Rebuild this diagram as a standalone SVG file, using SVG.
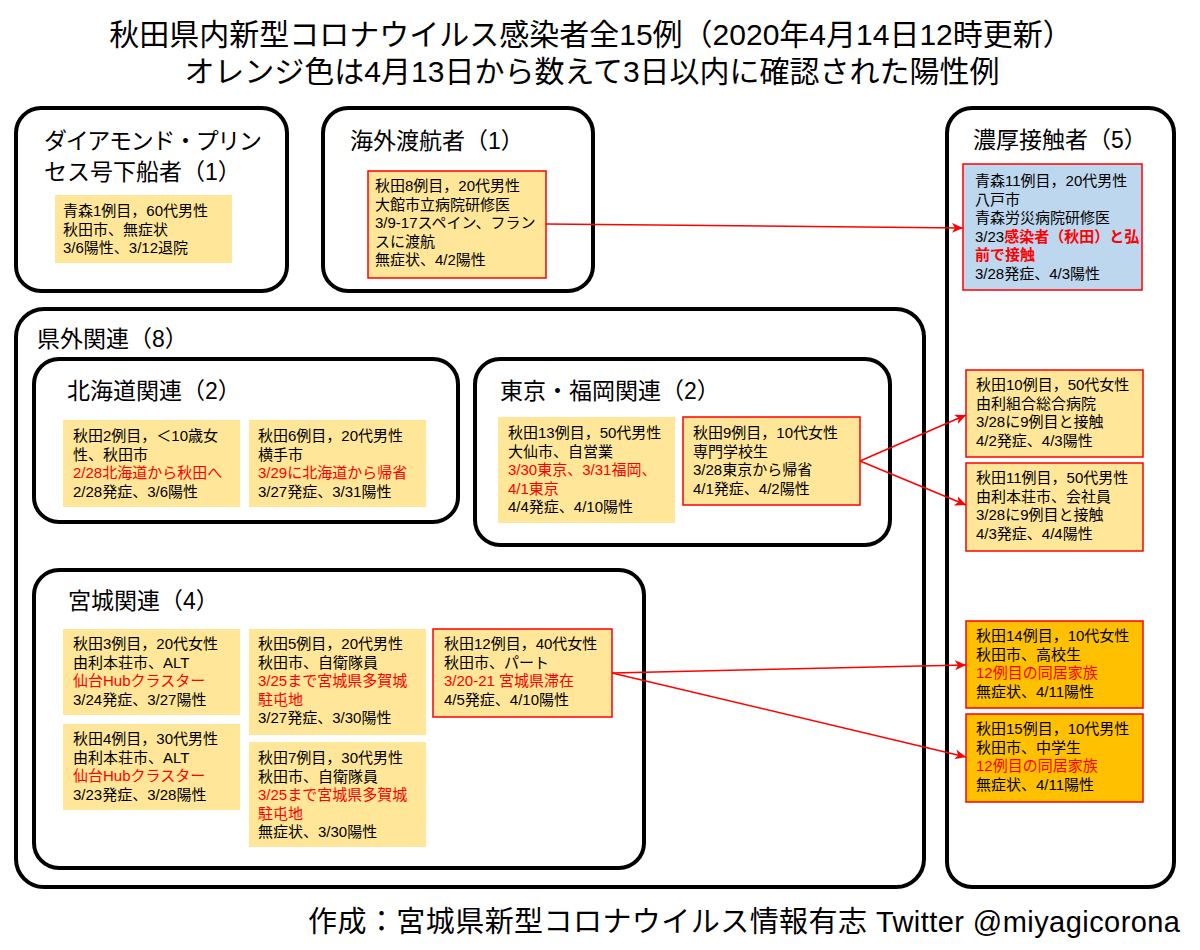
<svg xmlns="http://www.w3.org/2000/svg" width="1200" height="950" viewBox="0 0 1200 950">
<style>
text{font-family:"Liberation Sans","Noto Sans CJK JP",sans-serif;fill:#000}
.title{font-size:30px;text-anchor:middle}
.foot{font-size:29px;text-anchor:end}
.h{font-size:23px}
.t{font-size:15px}
.r{fill:#FF0000}
.b{font-weight:bold}
.box{fill:#fff;stroke:#000;stroke-width:4}
.c{fill:#FFE699}
.cr{fill:#FFE699;stroke:#FF0000;stroke-width:1.5}
.cb{fill:#BDD7EE;stroke:#FF0000;stroke-width:1.5}
.co{fill:#FFC000;stroke:#FF0000;stroke-width:1.5}
.link{fill:none;stroke:#FF0000;stroke-width:1.5}
</style>
<defs>
<marker id="arr" markerUnits="userSpaceOnUse" markerWidth="12" markerHeight="10" refX="11" refY="5" orient="auto">
<path d="M0,0 L11,5 L0,10 L3,5 z" fill="#FF0000"/>
</marker>
</defs>
<rect width="1200" height="950" fill="#fff"/>
<g id="title">
<text class="title"><tspan x="591" y="45">秋田県内新型コロナウイルス感染者全15例（2020年4月14日12時更新）</tspan><tspan x="592" y="82">オレンジ色は4月13日から数えて3日以内に確認された陽性例</tspan></text>
</g>
<g id="containers">
<g id="grp-diamond">
<rect class="box" x="16" y="108" width="271" height="183" rx="25"/>
<text class="h"><tspan x="44" y="149" textLength="218">ダイアモンド・プリン</tspan><tspan x="44" y="180">セス号下船者（1）</tspan></text>
</g>
<g id="grp-overseas">
<rect class="box" x="323" y="108" width="270" height="183" rx="25"/>
<text class="h" x="350" y="149">海外渡航者（1）</text>
</g>
<g id="grp-contact">
<rect class="box" x="947" y="108" width="227" height="779" rx="25"/>
<text class="h" x="973" y="148">濃厚接触者（5）</text>
</g>
<g id="grp-outside">
<rect class="box" x="16" y="309" width="908" height="578" rx="28"/>
<text class="h" x="37" y="347">県外関連（8）</text>
</g>
<g id="grp-hokkaido">
<rect class="box" x="34" y="359" width="424" height="163" rx="25"/>
<text class="h" x="67" y="399">北海道関連（2）</text>
</g>
<g id="grp-tokyo">
<rect class="box" x="475" y="359" width="415" height="186" rx="25"/>
<text class="h" x="500" y="399">東京・福岡関連（2）</text>
</g>
<g id="grp-miyagi">
<rect class="box" x="34" y="570" width="610" height="298" rx="25"/>
<text class="h" x="68" y="609">宮城関連（4）</text>
</g>
</g>
<g id="connectors">
<path class="link" d="M546,224 L963,228" marker-end="url(#arr)"/>
<path class="link" d="M860,461 L966,415" marker-end="url(#arr)"/>
<path class="link" d="M860,461 L966,505" marker-end="url(#arr)"/>
<path class="link" d="M612,673 L966,665" marker-end="url(#arr)"/>
<path class="link" d="M612,673 L966,757" marker-end="url(#arr)"/>
</g>
<g id="aomori1">
<rect class="c" x="55" y="195" width="177" height="68"/>
<text class="t"><tspan x="63" y="216">青森1例目，60代男性</tspan><tspan x="63" y="234.5">秋田市、無症状</tspan><tspan x="63" y="253">3/6陽性、3/12退院</tspan></text>
</g>
<g id="akita8">
<rect class="cr" x="368" y="171" width="178" height="107"/>
<text class="t"><tspan x="375" y="191">秋田8例目，20代男性</tspan><tspan x="375" y="209.5">大館市立病院研修医</tspan><tspan x="375" y="228">3/9-17スペイン、フラン</tspan><tspan x="375" y="246.5">スに渡航</tspan><tspan x="375" y="265">無症状、4/2陽性</tspan></text>
</g>
<g id="aomori11">
<rect class="cb" x="963" y="164" width="179" height="126"/>
<text class="t"><tspan x="975" y="186">青森11例目，20代男性</tspan><tspan x="975" y="204.5">八戸市</tspan><tspan x="975" y="223">青森労災病院研修医</tspan><tspan x="975" y="241.5">3/23</tspan><tspan class="r b">感染者（秋田）と弘</tspan><tspan class="r b" x="975" y="260">前で接触</tspan><tspan x="975" y="278.5">3/28発症、4/3陽性</tspan></text>
</g>
<g id="akita2">
<rect class="c" x="63" y="420" width="177" height="87"/>
<text class="t"><tspan x="73" y="441">秋田2例目，＜10歳女</tspan><tspan x="73" y="459.5">性、秋田市</tspan><tspan class="r" x="73" y="478">2/28北海道から秋田へ</tspan><tspan x="73" y="496.5">2/28発症、3/6陽性</tspan></text>
</g>
<g id="akita6">
<rect class="c" x="249" y="420" width="177" height="87"/>
<text class="t"><tspan x="258" y="441">秋田6例目，20代男性</tspan><tspan x="258" y="459.5">横手市</tspan><tspan class="r" x="258" y="478">3/29に北海道から帰省</tspan><tspan x="258" y="496.5">3/27発症、3/31陽性</tspan></text>
</g>
<g id="akita13">
<rect class="c" x="498" y="417" width="177" height="106"/>
<text class="t"><tspan x="508" y="438">秋田13例目，50代男性</tspan><tspan x="508" y="456.5">大仙市、自営業</tspan><tspan class="r" x="508" y="475">3/30東京、3/31福岡、</tspan><tspan class="r" x="508" y="493.5">4/1東京</tspan><tspan x="508" y="512">4/4発症、4/10陽性</tspan></text>
</g>
<g id="akita9">
<rect class="cr" x="683" y="417" width="177" height="88"/>
<text class="t"><tspan x="693" y="438">秋田9例目，10代女性</tspan><tspan x="693" y="456.5">専門学校生</tspan><tspan x="693" y="475">3/28東京から帰省</tspan><tspan x="693" y="493.5">4/1発症、4/2陽性</tspan></text>
</g>
<g id="akita10">
<rect class="cr" x="966" y="370" width="177" height="87"/>
<text class="t"><tspan x="976" y="390">秋田10例目，50代女性</tspan><tspan x="976" y="408.5">由利組合総合病院</tspan><tspan x="976" y="427">3/28に9例目と接触</tspan><tspan x="976" y="445.5">4/2発症、4/3陽性</tspan></text>
</g>
<g id="akita11">
<rect class="cr" x="966" y="463" width="177" height="88"/>
<text class="t"><tspan x="976" y="483">秋田11例目，50代男性</tspan><tspan x="976" y="501.5">由利本荘市、会社員</tspan><tspan x="976" y="520">3/28に9例目と接触</tspan><tspan x="976" y="538.5">4/3発症、4/4陽性</tspan></text>
</g>
<g id="akita3">
<rect class="c" x="63" y="629" width="177" height="86"/>
<text class="t"><tspan x="73" y="649">秋田3例目，20代女性</tspan><tspan x="73" y="667.5">由利本荘市、ALT</tspan><tspan class="r" x="73" y="686">仙台Hubクラスター</tspan><tspan x="73" y="704.5">3/24発症、3/27陽性</tspan></text>
</g>
<g id="akita4">
<rect class="c" x="63" y="724" width="177" height="86"/>
<text class="t"><tspan x="73" y="744">秋田4例目，30代男性</tspan><tspan x="73" y="762.5">由利本荘市、ALT</tspan><tspan class="r" x="73" y="781">仙台Hubクラスター</tspan><tspan x="73" y="799.5">3/23発症、3/28陽性</tspan></text>
</g>
<g id="akita5">
<rect class="c" x="249" y="629" width="177" height="106"/>
<text class="t"><tspan x="258" y="649">秋田5例目，20代男性</tspan><tspan x="258" y="667.5">秋田市、自衛隊員</tspan><tspan class="r" x="258" y="686">3/25まで宮城県多賀城</tspan><tspan class="r" x="258" y="704.5">駐屯地</tspan><tspan x="258" y="723">3/27発症、3/30陽性</tspan></text>
</g>
<g id="akita7">
<rect class="c" x="249" y="742" width="177" height="105"/>
<text class="t"><tspan x="258" y="763">秋田7例目，30代男性</tspan><tspan x="258" y="781.5">秋田市、自衛隊員</tspan><tspan class="r" x="258" y="800">3/25まで宮城県多賀城</tspan><tspan class="r" x="258" y="818.5">駐屯地</tspan><tspan x="258" y="837">無症状、3/30陽性</tspan></text>
</g>
<g id="akita12">
<rect class="cr" x="433" y="629" width="179" height="88"/>
<text class="t"><tspan x="444" y="649">秋田12例目，40代女性</tspan><tspan x="444" y="667.5">秋田市、パート</tspan><tspan class="r" x="444" y="686">3/20-21 宮城県滞在</tspan><tspan x="444" y="704.5">4/5発症、4/10陽性</tspan></text>
</g>
<g id="akita14">
<rect class="co" x="966" y="621" width="177" height="87"/>
<text class="t"><tspan x="976" y="641">秋田14例目，10代女性</tspan><tspan x="976" y="659.5">秋田市、高校生</tspan><tspan class="r" x="976" y="678">12例目の同居家族</tspan><tspan x="976" y="696.5">無症状、4/11陽性</tspan></text>
</g>
<g id="akita15">
<rect class="co" x="966" y="714" width="177" height="88"/>
<text class="t"><tspan x="976" y="734">秋田15例目，10代男性</tspan><tspan x="976" y="752.5">秋田市、中学生</tspan><tspan class="r" x="976" y="771">12例目の同居家族</tspan><tspan x="976" y="789.5">無症状、4/11陽性</tspan></text>
</g>
<g id="footer">
<text class="foot" x="1180" y="932" textLength="872">作成：宮城県新型コロナウイルス情報有志 Twitter @miyagicorona</text>
</g>
</svg>
